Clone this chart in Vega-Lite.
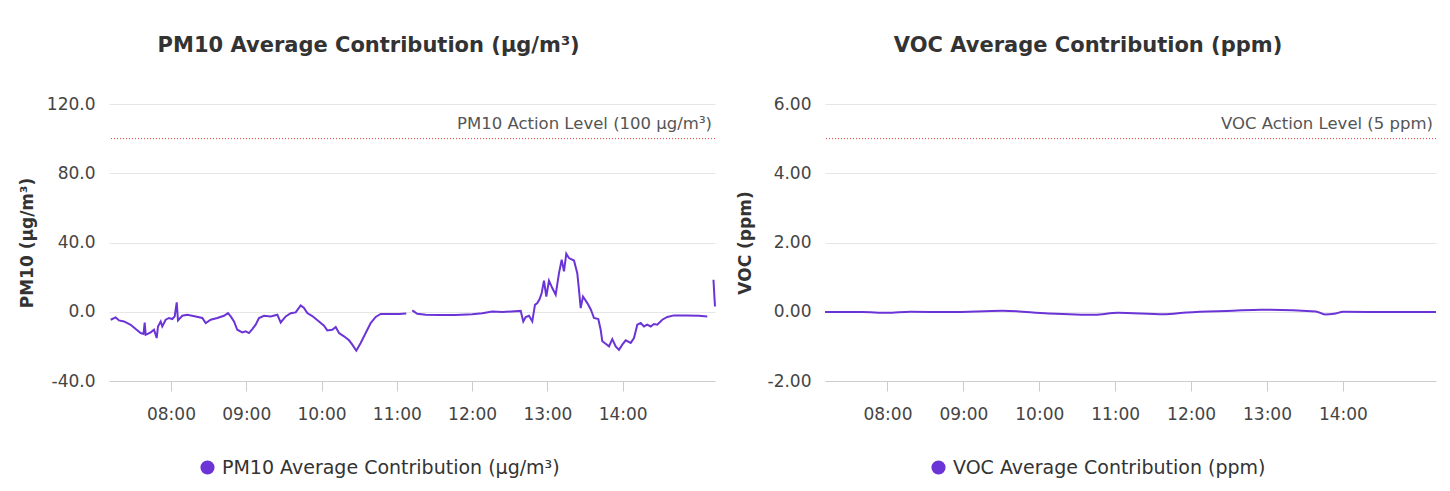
{
  "$schema": "https://vega.github.io/schema/vega-lite/v6.json",
  "background": "white",
  "padding": {"left": 18, "top": 35, "right": 5, "bottom": 5},
  "spacing": 17,
  "config": {
    "locale": {"number": {"decimal": ".", "thousands": ",", "grouping": [3], "currency": ["$", ""], "minus": "-"}},
    "font": "DejaVu Sans",
    "view": {"stroke": null},
    "title": {"fontSize": 21, "fontWeight": "bold", "color": "#333333", "frame": "bounds", "anchor": "middle", "offset": 39},
    "axis": {"labelFont": "DejaVu Sans", "labelFontSize": 17, "labelColor": "#444444", "titleFont": "DejaVu Sans", "titleFontSize": 17, "titleFontWeight": "bold", "titleColor": "#333333"},
    "axisY": {"grid": true, "gridColor": "#e6e6e6", "domain": false, "ticks": false, "labelPadding": 14, "titlePadding": 10},
    "axisX": {"grid": false, "domain": true, "domainColor": "#cccccc", "ticks": true, "tickColor": "#cccccc", "tickSize": 10, "labelPadding": 15, "title": null},
    "legend": {"labelFont": "DejaVu Sans", "labelFontSize": 19, "labelColor": "#333333", "labelLimit": 0, "symbolType": "circle", "symbolSize": 200, "labelOffset": 5, "title": null}
  },
  "resolve": {"scale": {"color": "independent"}, "legend": {"color": "independent"}},
  "datasets": {
    "pm10": [
      {"t": "2024-01-01T07:11:57", "v": -4.6, "seg": 1},
      {"t": "2024-01-01T07:15:56", "v": -3.3, "seg": 1},
      {"t": "2024-01-01T07:18:34", "v": -5.0, "seg": 1},
      {"t": "2024-01-01T07:22:34", "v": -5.6, "seg": 1},
      {"t": "2024-01-01T07:27:53", "v": -7.5, "seg": 1},
      {"t": "2024-01-01T07:31:53", "v": -10.0, "seg": 1},
      {"t": "2024-01-01T07:35:52", "v": -12.3, "seg": 1},
      {"t": "2024-01-01T07:38:06", "v": -12.8, "seg": 1},
      {"t": "2024-01-01T07:39:03", "v": -6.2, "seg": 1},
      {"t": "2024-01-01T07:39:51", "v": -13.3, "seg": 1},
      {"t": "2024-01-01T07:43:50", "v": -11.9, "seg": 1},
      {"t": "2024-01-01T07:46:28", "v": -10.4, "seg": 1},
      {"t": "2024-01-01T07:48:37", "v": -15.2, "seg": 1},
      {"t": "2024-01-01T07:49:39", "v": -8.5, "seg": 1},
      {"t": "2024-01-01T07:51:48", "v": -5.6, "seg": 1},
      {"t": "2024-01-01T07:53:05", "v": -8.5, "seg": 1},
      {"t": "2024-01-01T07:55:47", "v": -4.6, "seg": 1},
      {"t": "2024-01-01T07:58:25", "v": -3.6, "seg": 1},
      {"t": "2024-01-01T08:01:03", "v": -4.2, "seg": 1},
      {"t": "2024-01-01T08:02:58", "v": -2.7, "seg": 1},
      {"t": "2024-01-01T08:04:34", "v": 5.4, "seg": 1},
      {"t": "2024-01-01T08:05:35", "v": -5.0, "seg": 1},
      {"t": "2024-01-01T08:09:01", "v": -2.3, "seg": 1},
      {"t": "2024-01-01T08:13:01", "v": -1.7, "seg": 1},
      {"t": "2024-01-01T08:19:42", "v": -2.7, "seg": 1},
      {"t": "2024-01-01T08:24:58", "v": -3.6, "seg": 1},
      {"t": "2024-01-01T08:27:40", "v": -6.5, "seg": 1},
      {"t": "2024-01-01T08:31:39", "v": -4.6, "seg": 1},
      {"t": "2024-01-01T08:36:55", "v": -3.6, "seg": 1},
      {"t": "2024-01-01T08:42:16", "v": -2.3, "seg": 1},
      {"t": "2024-01-01T08:45:26", "v": -0.8, "seg": 1},
      {"t": "2024-01-01T08:47:36", "v": -2.7, "seg": 1},
      {"t": "2024-01-01T08:50:14", "v": -5.6, "seg": 1},
      {"t": "2024-01-01T08:52:51", "v": -10.4, "seg": 1},
      {"t": "2024-01-01T08:56:50", "v": -11.9, "seg": 1},
      {"t": "2024-01-01T08:59:33", "v": -11.3, "seg": 1},
      {"t": "2024-01-01T09:02:11", "v": -12.3, "seg": 1},
      {"t": "2024-01-01T09:04:49", "v": -10.0, "seg": 1},
      {"t": "2024-01-01T09:07:31", "v": -7.5, "seg": 1},
      {"t": "2024-01-01T09:10:09", "v": -3.6, "seg": 1},
      {"t": "2024-01-01T09:14:08", "v": -2.3, "seg": 1},
      {"t": "2024-01-01T09:19:28", "v": -2.7, "seg": 1},
      {"t": "2024-01-01T09:24:44", "v": -1.7, "seg": 1},
      {"t": "2024-01-01T09:27:27", "v": -6.2, "seg": 1},
      {"t": "2024-01-01T09:31:26", "v": -2.7, "seg": 1},
      {"t": "2024-01-01T09:35:25", "v": -0.8, "seg": 1},
      {"t": "2024-01-01T09:39:24", "v": -0.4, "seg": 1},
      {"t": "2024-01-01T09:43:23", "v": 3.7, "seg": 1},
      {"t": "2024-01-01T09:46:01", "v": 2.2, "seg": 1},
      {"t": "2024-01-01T09:48:39", "v": -0.8, "seg": 1},
      {"t": "2024-01-01T09:52:38", "v": -2.5, "seg": 1},
      {"t": "2024-01-01T09:57:58", "v": -5.6, "seg": 1},
      {"t": "2024-01-01T10:01:58", "v": -8.1, "seg": 1},
      {"t": "2024-01-01T10:04:35", "v": -10.8, "seg": 1},
      {"t": "2024-01-01T10:08:34", "v": -10.4, "seg": 1},
      {"t": "2024-01-01T10:11:17", "v": -8.8, "seg": 1},
      {"t": "2024-01-01T10:13:55", "v": -12.3, "seg": 1},
      {"t": "2024-01-01T10:17:54", "v": -14.2, "seg": 1},
      {"t": "2024-01-01T10:21:53", "v": -16.5, "seg": 1},
      {"t": "2024-01-01T10:24:31", "v": -19.0, "seg": 1},
      {"t": "2024-01-01T10:27:42", "v": -22.5, "seg": 1},
      {"t": "2024-01-01T10:31:12", "v": -18.0, "seg": 1},
      {"t": "2024-01-01T10:35:11", "v": -12.3, "seg": 1},
      {"t": "2024-01-01T10:39:10", "v": -6.5, "seg": 1},
      {"t": "2024-01-01T10:43:10", "v": -3.0, "seg": 1},
      {"t": "2024-01-01T10:47:08", "v": -1.3, "seg": 1},
      {"t": "2024-01-01T10:53:46", "v": -1.3, "seg": 1},
      {"t": "2024-01-01T11:01:44", "v": -1.3, "seg": 1},
      {"t": "2024-01-01T11:07:33", "v": -1.0, "seg": 1},
      {"t": "2024-01-01T11:12:20", "v": 0.8, "seg": 2},
      {"t": "2024-01-01T11:16:19", "v": -1.2, "seg": 2},
      {"t": "2024-01-01T11:23:01", "v": -1.7, "seg": 2},
      {"t": "2024-01-01T11:33:37", "v": -1.9, "seg": 2},
      {"t": "2024-01-01T11:46:55", "v": -1.9, "seg": 2},
      {"t": "2024-01-01T12:00:09", "v": -1.5, "seg": 2},
      {"t": "2024-01-01T12:08:07", "v": -0.8, "seg": 2},
      {"t": "2024-01-01T12:16:05", "v": 0.1, "seg": 2},
      {"t": "2024-01-01T12:24:04", "v": -0.2, "seg": 2},
      {"t": "2024-01-01T12:38:43", "v": 0.5, "seg": 2},
      {"t": "2024-01-01T12:40:48", "v": -5.6, "seg": 2},
      {"t": "2024-01-01T12:42:43", "v": -3.0, "seg": 2},
      {"t": "2024-01-01T12:45:20", "v": -2.3, "seg": 2},
      {"t": "2024-01-01T12:47:58", "v": -5.6, "seg": 2},
      {"t": "2024-01-01T12:50:07", "v": 4.0, "seg": 2},
      {"t": "2024-01-01T12:51:58", "v": 5.0, "seg": 2},
      {"t": "2024-01-01T12:53:52", "v": 7.3, "seg": 2},
      {"t": "2024-01-01T12:55:28", "v": 10.8, "seg": 2},
      {"t": "2024-01-01T12:57:18", "v": 18.0, "seg": 2},
      {"t": "2024-01-01T12:59:08", "v": 8.8, "seg": 2},
      {"t": "2024-01-01T13:01:17", "v": 18.0, "seg": 2},
      {"t": "2024-01-01T13:03:55", "v": 13.7, "seg": 2},
      {"t": "2024-01-01T13:06:37", "v": 9.8, "seg": 2},
      {"t": "2024-01-01T13:09:15", "v": 22.3, "seg": 2},
      {"t": "2024-01-01T13:11:24", "v": 30.0, "seg": 2},
      {"t": "2024-01-01T13:13:14", "v": 23.3, "seg": 2},
      {"t": "2024-01-01T13:15:04", "v": 33.5, "seg": 2},
      {"t": "2024-01-01T13:17:13", "v": 31.0, "seg": 2},
      {"t": "2024-01-01T13:21:13", "v": 29.6, "seg": 2},
      {"t": "2024-01-01T13:23:50", "v": 22.3, "seg": 2},
      {"t": "2024-01-01T13:25:11", "v": 12.7, "seg": 2},
      {"t": "2024-01-01T13:26:33", "v": 2.1, "seg": 2},
      {"t": "2024-01-01T13:28:23", "v": 8.8, "seg": 2},
      {"t": "2024-01-01T13:31:49", "v": 5.0, "seg": 2},
      {"t": "2024-01-01T13:34:31", "v": 1.5, "seg": 2},
      {"t": "2024-01-01T13:37:09", "v": -3.6, "seg": 2},
      {"t": "2024-01-01T13:40:35", "v": -4.2, "seg": 2},
      {"t": "2024-01-01T13:42:29", "v": -10.4, "seg": 2},
      {"t": "2024-01-01T13:43:46", "v": -17.0, "seg": 2},
      {"t": "2024-01-01T13:46:29", "v": -18.5, "seg": 2},
      {"t": "2024-01-01T13:49:07", "v": -20.0, "seg": 2},
      {"t": "2024-01-01T13:51:44", "v": -15.8, "seg": 2},
      {"t": "2024-01-01T13:54:27", "v": -20.0, "seg": 2},
      {"t": "2024-01-01T13:57:05", "v": -22.0, "seg": 2},
      {"t": "2024-01-01T13:59:43", "v": -19.0, "seg": 2},
      {"t": "2024-01-01T14:02:25", "v": -16.5, "seg": 2},
      {"t": "2024-01-01T14:06:24", "v": -18.0, "seg": 2},
      {"t": "2024-01-01T14:09:02", "v": -15.2, "seg": 2},
      {"t": "2024-01-01T14:11:40", "v": -7.5, "seg": 2},
      {"t": "2024-01-01T14:14:22", "v": -6.5, "seg": 2},
      {"t": "2024-01-01T14:17:00", "v": -8.5, "seg": 2},
      {"t": "2024-01-01T14:19:38", "v": -7.5, "seg": 2},
      {"t": "2024-01-01T14:22:20", "v": -8.5, "seg": 2},
      {"t": "2024-01-01T14:24:58", "v": -7.1, "seg": 2},
      {"t": "2024-01-01T14:27:36", "v": -7.5, "seg": 2},
      {"t": "2024-01-01T14:31:35", "v": -4.6, "seg": 2},
      {"t": "2024-01-01T14:35:34", "v": -3.0, "seg": 2},
      {"t": "2024-01-01T14:40:55", "v": -2.1, "seg": 2},
      {"t": "2024-01-01T14:50:14", "v": -2.1, "seg": 2},
      {"t": "2024-01-01T15:00:50", "v": -2.3, "seg": 2},
      {"t": "2024-01-01T15:07:27", "v": -2.7, "seg": 2},
      {"t": "2024-01-01T15:12:23", "v": 18.5, "seg": 3},
      {"t": "2024-01-01T15:13:02", "v": 9.8, "seg": 3},
      {"t": "2024-01-01T15:13:36", "v": 3.0, "seg": 3}
    ],
    "voc": [
      {"t": "2024-01-01T07:10:36", "v": -0.01},
      {"t": "2024-01-01T07:40:00", "v": -0.01},
      {"t": "2024-01-01T07:59:48", "v": -0.03},
      {"t": "2024-01-01T08:18:00", "v": 0.0},
      {"t": "2024-01-01T08:50:00", "v": -0.01},
      {"t": "2024-01-01T09:30:54", "v": 0.03},
      {"t": "2024-01-01T10:07:18", "v": -0.05},
      {"t": "2024-01-01T10:43:48", "v": -0.09},
      {"t": "2024-01-01T11:02:00", "v": -0.03},
      {"t": "2024-01-01T11:38:24", "v": -0.07},
      {"t": "2024-01-01T11:56:36", "v": -0.02},
      {"t": "2024-01-01T12:33:00", "v": 0.03},
      {"t": "2024-01-01T12:55:00", "v": 0.06},
      {"t": "2024-01-01T13:38:36", "v": 0.01},
      {"t": "2024-01-01T13:45:54", "v": -0.08},
      {"t": "2024-01-01T13:53:00", "v": -0.06},
      {"t": "2024-01-01T14:00:24", "v": 0.0},
      {"t": "2024-01-01T14:40:00", "v": -0.01},
      {"t": "2024-01-01T15:13:36", "v": -0.01}
    ],
    "pmlevel": [{"v": 100, "label": "PM10 Action Level (100 µg/m³)"}],
    "voclevel": [{"v": 5, "label": "VOC Action Level (5 ppm)"}]
  },
  "hconcat": [
    {
      "title": "PM10 Average Contribution (µg/m³)",
      "width": 606,
      "height": 277,
      "layer": [
        {
          "data": {"name": "pmlevel"},
          "mark": {"type": "rule", "color": "#e0393e", "strokeDash": [1, 2], "strokeWidth": 1},
          "encoding": {"y": {"field": "v", "type": "quantitative"}}
        },
        {
          "data": {"name": "pmlevel"},
          "mark": {"type": "text", "align": "right", "baseline": "middle", "dy": -15, "dx": -3, "fontSize": 16.5, "color": "#555555"},
          "encoding": {
            "x": {"datum": {"year": 2024, "month": 1, "date": 1, "hours": 15, "minutes": 13, "seconds": 36}, "type": "temporal"},
            "y": {"field": "v", "type": "quantitative"},
            "text": {"field": "label"}
          }
        },
        {
          "data": {"name": "pm10"},
          "mark": {"type": "line", "strokeWidth": 2, "interpolate": "linear"},
          "encoding": {
            "x": {
              "field": "t", "type": "temporal",
              "scale": {"domain": [{"year": 2024, "month": 1, "date": 1, "hours": 7, "minutes": 10, "seconds": 36}, {"year": 2024, "month": 1, "date": 1, "hours": 15, "minutes": 13, "seconds": 36}], "nice": false},
              "axis": {"format": "%H:%M", "values": [
                {"year": 2024, "month": 1, "date": 1, "hours": 8},
                {"year": 2024, "month": 1, "date": 1, "hours": 9},
                {"year": 2024, "month": 1, "date": 1, "hours": 10},
                {"year": 2024, "month": 1, "date": 1, "hours": 11},
                {"year": 2024, "month": 1, "date": 1, "hours": 12},
                {"year": 2024, "month": 1, "date": 1, "hours": 13},
                {"year": 2024, "month": 1, "date": 1, "hours": 14}
              ]}
            },
            "y": {
              "field": "v", "type": "quantitative",
              "scale": {"domain": [-40, 120], "nice": false},
              "axis": {"title": "PM10 (µg/m³)", "values": [-40, 0, 40, 80, 120], "format": ".1f"}
            },
            "detail": {"field": "seg"},
            "color": {
              "datum": "PM10 Average Contribution (µg/m³)",
              "scale": {"range": ["#6b34d6"]},
              "legend": {
                "orient": "none", "legendX": 89, "legendY": 354, "direction": "horizontal",
                "encode": {"symbols": {"update": {"fill": {"value": "#6b34d6"}, "stroke": {"value": "#6b34d6"}, "strokeWidth": {"value": 0}}}}
              }
            }
          }
        }
      ]
    },
    {
      "title": "VOC Average Contribution (ppm)",
      "width": 611,
      "height": 277,
      "layer": [
        {
          "data": {"name": "voclevel"},
          "mark": {"type": "rule", "color": "#e0393e", "strokeDash": [1, 2], "strokeWidth": 1},
          "encoding": {"y": {"field": "v", "type": "quantitative"}}
        },
        {
          "data": {"name": "voclevel"},
          "mark": {"type": "text", "align": "right", "baseline": "middle", "dy": -15, "dx": -3, "fontSize": 16.5, "color": "#555555"},
          "encoding": {
            "x": {"datum": {"year": 2024, "month": 1, "date": 1, "hours": 15, "minutes": 13, "seconds": 36}, "type": "temporal"},
            "y": {"field": "v", "type": "quantitative"},
            "text": {"field": "label"}
          }
        },
        {
          "data": {"name": "voc"},
          "mark": {"type": "line", "strokeWidth": 2, "interpolate": "monotone"},
          "encoding": {
            "x": {
              "field": "t", "type": "temporal",
              "scale": {"domain": [{"year": 2024, "month": 1, "date": 1, "hours": 7, "minutes": 10, "seconds": 36}, {"year": 2024, "month": 1, "date": 1, "hours": 15, "minutes": 13, "seconds": 36}], "nice": false},
              "axis": {"format": "%H:%M", "values": [
                {"year": 2024, "month": 1, "date": 1, "hours": 8},
                {"year": 2024, "month": 1, "date": 1, "hours": 9},
                {"year": 2024, "month": 1, "date": 1, "hours": 10},
                {"year": 2024, "month": 1, "date": 1, "hours": 11},
                {"year": 2024, "month": 1, "date": 1, "hours": 12},
                {"year": 2024, "month": 1, "date": 1, "hours": 13},
                {"year": 2024, "month": 1, "date": 1, "hours": 14}
              ]}
            },
            "y": {
              "field": "v", "type": "quantitative",
              "scale": {"domain": [-2, 6], "nice": false},
              "axis": {"title": "VOC (ppm)", "values": [-2, 0, 2, 4, 6], "format": ".2f", "titlePadding": 13}
            },
            "color": {
              "datum": "VOC Average Contribution (ppm)",
              "scale": {"range": ["#6b34d6"]},
              "legend": {
                "orient": "none", "legendX": 104, "legendY": 354, "direction": "horizontal",
                "encode": {"symbols": {"update": {"fill": {"value": "#6b34d6"}, "stroke": {"value": "#6b34d6"}, "strokeWidth": {"value": 0}}}}
              }
            }
          }
        }
      ]
    }
  ]
}
